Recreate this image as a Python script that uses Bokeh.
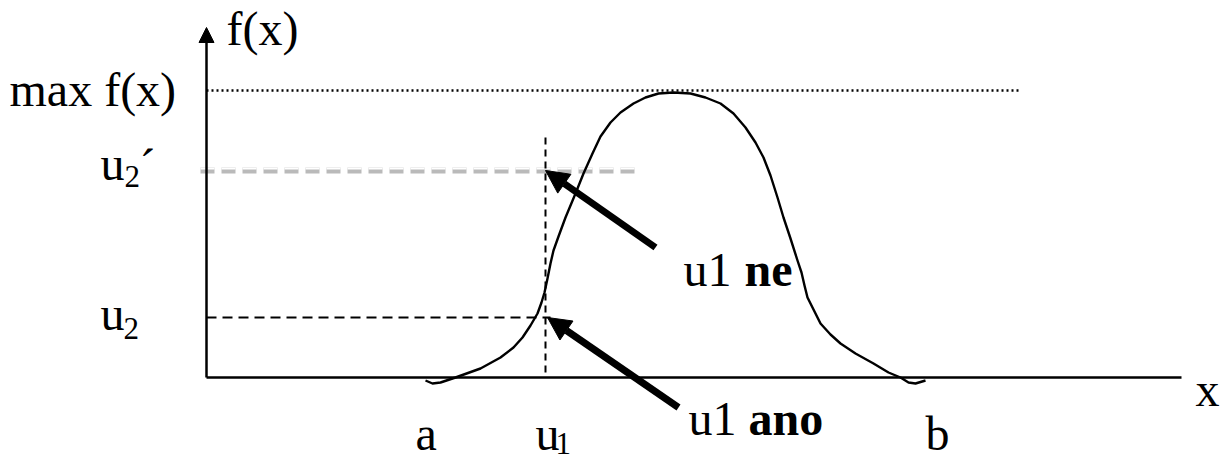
from bokeh.plotting import figure
from bokeh.models import Range1d, Arrow, NormalHead
from bokeh.core.properties import value
from bokeh.embed import file_html
from bokeh.resources import INLINE

# ---- data (diagram units, origin at the axes' crossing) ----
curve_x = [219, 226, 234, 249, 274, 294, 307, 316, 324, 331, 335, 338, 341, 344, 347,
           352, 359, 369, 377, 386, 394, 404, 414, 427, 439, 452, 467, 484, 499, 514,
           527, 539, 549, 557, 564, 571, 577, 584, 591, 595, 598, 601, 606, 614, 624,
           634, 649, 667, 682, 694, 702, 709, 719]
curve_f = [-3, -6, -5, 0, 9, 20, 30, 40, 52, 64, 75, 85, 99, 114, 127,
           141, 160, 184, 204, 224, 241, 255, 265, 274, 280, 284, 285, 284, 280, 274,
           264, 250, 235, 220, 202, 180, 160, 139, 117, 105, 92, 80, 70, 54, 43,
           34, 24, 14, 5, 0, -5, -6, -3]

max_f = 287          # level of the dotted "max f(x)" line
max_line_end = 814
u1 = 339             # vertical dashed guide
u1_top = 240
u1_bottom = 5
u2 = 60              # lower dashed guide (accepted point)
u2_line_end = 344
u2_prime = 208       # upper grey dashed guide (rejected point)
u2p_line_start = -6
u2p_line_end = 429
x_axis_end = 975
y_axis_end = 350

# arrows: (tail_x, tail_y, tip_x, tip_y)
arrow_ne = (449, 130, 339, 207)
arrow_ano = (472, -30, 341, 60)

# labels: normal text
lab_x = [20, -197, -106, -106, 329, 209, 719, 989, 477, 482]
lab_y = [349, 288, 214, 64, -56, -56, -56, -12, 108, -41]
lab_t = ["f(x)", "max f(x)", "u", "u", "u", "a", "b", "x", "u1", "u1"]
# subscripts
sub_x = [-82, -83, 349]
sub_y = [201, 49, -66]
sub_t = ["2", "2", "1"]
# prime
prime_x = [-67]
prime_y = [211]
prime_t = ["\u00b4"]
# bold words
bold_x = [538, 542]
bold_y = [108, -41]
bold_t = ["ne", "ano"]

FONT = value("Liberation Serif")

p = figure(width=1226, height=460, x_range=Range1d(-206, 1020), y_range=Range1d(-83, 377),
           output_backend="svg", toolbar_location=None, min_border=0,
           x_axis_type=None, y_axis_type=None)
p.grid.visible = False
p.outline_line_color = None
p.background_fill_color = "white"

# dotted max line
p.line([0, max_line_end], [max_f, max_f], line_color="black", line_width=2.5, line_dash="2 3")

# grey shadowed dashed line for u2'
p.line([u2p_line_start, u2p_line_end], [u2_prime - 1, u2_prime - 1], line_color="#8c8c8c",
       line_width=6, line_alpha=0.6, line_dash="14 7")
p.line([u2p_line_start, u2p_line_end], [u2_prime + 1, u2_prime + 1], line_color="white",
       line_width=2, line_dash="14 7")

# u2 dashed line
p.line([0, u2_line_end], [u2, u2], line_color="black", line_width=2, line_dash="10 6")
# u1 vertical dashed line
p.line([u1, u1], [u1_bottom, u1_top], line_color="black", line_width=2, line_dash="7 5")

# axes
p.line([0, x_axis_end], [0, 0], line_color="black", line_width=2.5)
p.add_layout(Arrow(x_start=0, y_start=0, x_end=0, y_end=y_axis_end, line_width=2.5,
                   line_color="black",
                   end=NormalHead(size=15, fill_color="black", line_color="black", line_width=1)))

# density curve
p.line(curve_x, curve_f, line_color="black", line_width=2.4, line_join="round")

# thick arrows
for (tx, ty, hx, hy) in (arrow_ne, arrow_ano):
    p.add_layout(Arrow(x_start=tx, y_start=ty, x_end=hx, y_end=hy, line_width=7,
                       line_color="black",
                       end=NormalHead(size=23, fill_color="black", line_color="black", line_width=1)))

# texts
p.text(lab_x, lab_y, text=lab_t, text_font=FONT, text_font_size="48px",
       text_baseline="alphabetic", text_align="left", text_color="black")
p.text(sub_x, sub_y, text=sub_t, text_font=FONT, text_font_size="31px",
       text_baseline="alphabetic", text_align="left", text_color="black")
p.text(prime_x, prime_y, text=prime_t, text_font=FONT, text_font_size="48px",
       text_baseline="alphabetic", text_align="left", text_color="black")
p.text(bold_x, bold_y, text=bold_t, text_font=FONT, text_font_size="48px",
       text_font_style="bold", text_baseline="alphabetic", text_align="left", text_color="black")

open("out.html", "w").write(file_html(p, INLINE))
